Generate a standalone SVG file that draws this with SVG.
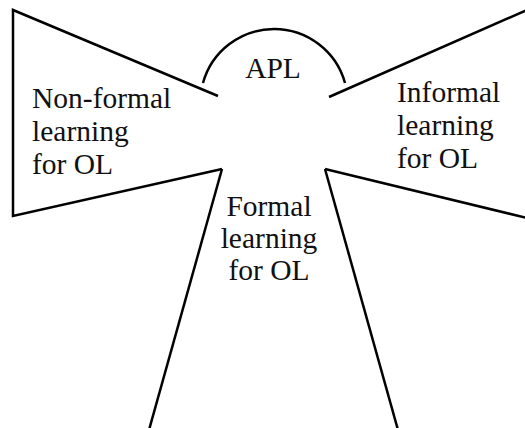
<svg xmlns="http://www.w3.org/2000/svg" width="525" height="428" viewBox="0 0 525 428">
<style>
.ln{fill:none;stroke:#000;stroke-width:2.5;stroke-linejoin:miter;stroke-linecap:butt}
.t{font-family:"Liberation Serif","Times New Roman",serif;font-size:29.5px;fill:#111}
</style>
<rect width="525" height="428" fill="#fff"/>
<g id="connectors">
</g>
<g id="apl">
<path class="ln" d="M203,83 A73.7,73.7 0 0 1 345,83"/>
<text class="t" x="273" y="78" text-anchor="middle">APL</text>
</g>
<g id="nonformal">
<polyline class="ln" points="218,96 13,10 13,216 222,169"/>
<text class="t" x="32" y="108">Non-formal</text>
<text class="t" x="32" y="141">learning</text>
<text class="t" x="32" y="174">for OL</text>
</g>
<g id="informal">
<polyline class="ln" points="329,97 527,10"/>
<polyline class="ln" points="527,218 325,169"/>
<text class="t" x="397" y="102">Informal</text>
<text class="t" x="397" y="135">learning</text>
<text class="t" x="397" y="168">for OL</text>
</g>
<g id="formal">
<polyline class="ln" points="222,169 149,430"/>
<polyline class="ln" points="325,169 398,430"/>
<text class="t" x="269" y="216" text-anchor="middle">Formal</text>
<text class="t" x="269" y="248" text-anchor="middle">learning</text>
<text class="t" x="269" y="280" text-anchor="middle">for OL</text>
</g>
</svg>
